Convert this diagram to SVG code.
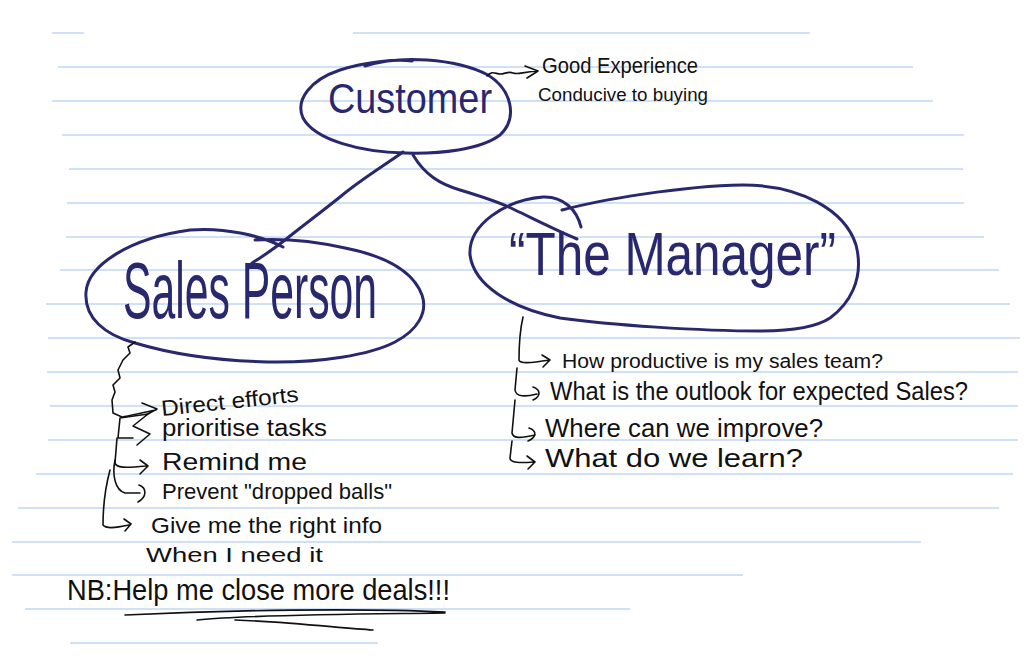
<svg xmlns="http://www.w3.org/2000/svg" width="1030" height="666" viewBox="0 0 1030 666">
<style>
.rule{stroke:#cfe0f8;stroke-width:2;fill:none}
.pen{fill:none;stroke:#29286e;stroke-width:3;stroke-linecap:round;stroke-linejoin:round}
.ink{fill:none;stroke:#111;stroke-width:1.6;stroke-linecap:round;stroke-linejoin:round}
.big{font-family:"Liberation Sans",Arial,sans-serif;fill:#29286e}
.note{font-family:"Liberation Sans",Arial,sans-serif;fill:#111}
</style>
<rect width="1030" height="666" fill="#fff"/>
<g id="ruled-paper">
<path class="rule" d="M52 33H84M353 33H810M58 67H913M52 101H933M62 135H964M69 169H963M67 203H964M66 237H984M60 270H999M46 304H1010M48 338H1020M47 372H1018M50 406H1018M48 440H1018M36 474H1013M18 508H999M12 542H921M12 575H743M25 609H630M70 643H378"/>
</g>
<g id="connectors">
<path class="pen" d="M403 152C385 165,360 180,340 197C320 213,300 228,285 240C272 250,262 257,252 263"/>
<path class="pen" d="M413 155C425 175,440 184,460 190C480 196,500 202,515 210C540 222,560 232,577 239"/>
</g>
<g id="customer">
<path class="pen" d="M365 66C400 55,455 58,488 75C512 90,518 118,500 135C480 150,440 154,405 153C360 152,315 140,303 118C295 100,310 80,340 70C365 62,395 59,412 61"/>
<text class="big" x="328" y="113" font-size="42" textLength="164" lengthAdjust="spacingAndGlyphs">Customer</text>
</g>
<g id="customer-note">
<path class="ink" d="M487 76C492 70,496 74,500 74C505 74,508 71,513 73C518 75,522 72,537 71M525 66L538 71L527 78"/>
<text class="note" x="542" y="73" font-size="22" textLength="156" lengthAdjust="spacingAndGlyphs">Good Experience</text>
<text class="note" x="538" y="101" font-size="18" textLength="170" lengthAdjust="spacingAndGlyphs">Conducive to buying</text>
</g>
<g id="sales-person">
<path class="pen" d="M283 247C262 236,225 227,190 230C130 238,88 265,86 292C84 318,105 335,135 343C175 355,225 361,268 362C320 363,370 355,395 342C418 330,428 312,422 295C412 268,380 255,345 248C318 242,290 238,255 240"/>
<text class="big" x="123" y="318" font-size="80" textLength="254" lengthAdjust="spacingAndGlyphs">Sales Person</text>
</g>
<g id="manager">
<path class="pen" d="M562 210C600 200,680 186,743 185C800 185,845 210,856 245C865 280,848 305,830 318C815 328,790 331,760 331C700 331,610 325,560 318C510 308,474 285,470 255C468 225,505 200,543 197C563 196,577 210,581 227"/>
<text class="big" x="509" y="275" font-size="62" textLength="327" lengthAdjust="spacingAndGlyphs">“The Manager”</text>
</g>
<g id="sales-list">
<path class="ink" d="M135 342L128 347L130 353L123 360L118 370L120 378L113 385L115 392L112 400L113 413L122 417C130 416,140 413,156 410M142 403L157 409L146 415"/>
<path class="ink" d="M120 418L148 414L133 426L150 434L137 445M120 418L118 438L133 438"/>
<path class="ink" d="M117 438L115 463C116 468,125 468,146 466M140 460L148 466L140 474"/>
<path class="ink" d="M115 460C112 475,115 490,125 493L140 493M139 485C147 488,147 497,138 502"/>
<path class="ink" d="M110 470C106 485,103 500,103 525C106 529,115 528,129 525M124 519L131 524L125 531"/>
<text class="note" x="162" y="416" font-size="22" textLength="138" lengthAdjust="spacingAndGlyphs" transform="rotate(-6 162 416)">Direct efforts</text>
<text class="note" x="162" y="436" font-size="23" textLength="165" lengthAdjust="spacingAndGlyphs">prioritise tasks</text>
<text class="note" x="162" y="470" font-size="24" textLength="145" lengthAdjust="spacingAndGlyphs">Remind me</text>
<text class="note" x="162" y="499" font-size="22" textLength="230" lengthAdjust="spacingAndGlyphs">Prevent "dropped balls"</text>
<text class="note" x="151" y="533" font-size="22" textLength="231" lengthAdjust="spacingAndGlyphs">Give me the right info</text>
<text class="note" x="146" y="562" font-size="21" textLength="177" lengthAdjust="spacingAndGlyphs">When I need it</text>
</g>
<g id="nb-note">
<text class="note" x="67" y="600" font-size="29" textLength="383" lengthAdjust="spacingAndGlyphs">NB:Help me close more deals!!!</text>
<path class="ink" stroke-width="2" d="M125 615C230 610,360 608,445 612M197 620C260 614,380 614,445 613M235 620C290 622,340 628,373 630"/>
</g>
<g id="manager-list">
<path class="ink" d="M523 317C520 330,519 345,519 360C520 364,530 363,550 360M542 355L550 360L543 367"/>
<path class="ink" d="M517 368L515 390C516 397,525 397,537 394M533 387C541 390,541 396,533 400"/>
<path class="ink" d="M515 400L512 433C513 439,522 438,535 435M529 428C537 431,537 437,528 441"/>
<path class="ink" d="M512 441L510 458C510 463,520 463,534 462M527 456L535 462L528 469"/>
<text class="note" x="562" y="368" font-size="20" textLength="321" lengthAdjust="spacingAndGlyphs">How productive is my sales team?</text>
<text class="note" x="550" y="400" font-size="26" textLength="418" lengthAdjust="spacingAndGlyphs">What is the outlook for expected Sales?</text>
<text class="note" x="545" y="437" font-size="26" textLength="278" lengthAdjust="spacingAndGlyphs">Where can we improve?</text>
<text class="note" x="545" y="467" font-size="26" textLength="258" lengthAdjust="spacingAndGlyphs">What do we learn?</text>
</g>
</svg>
